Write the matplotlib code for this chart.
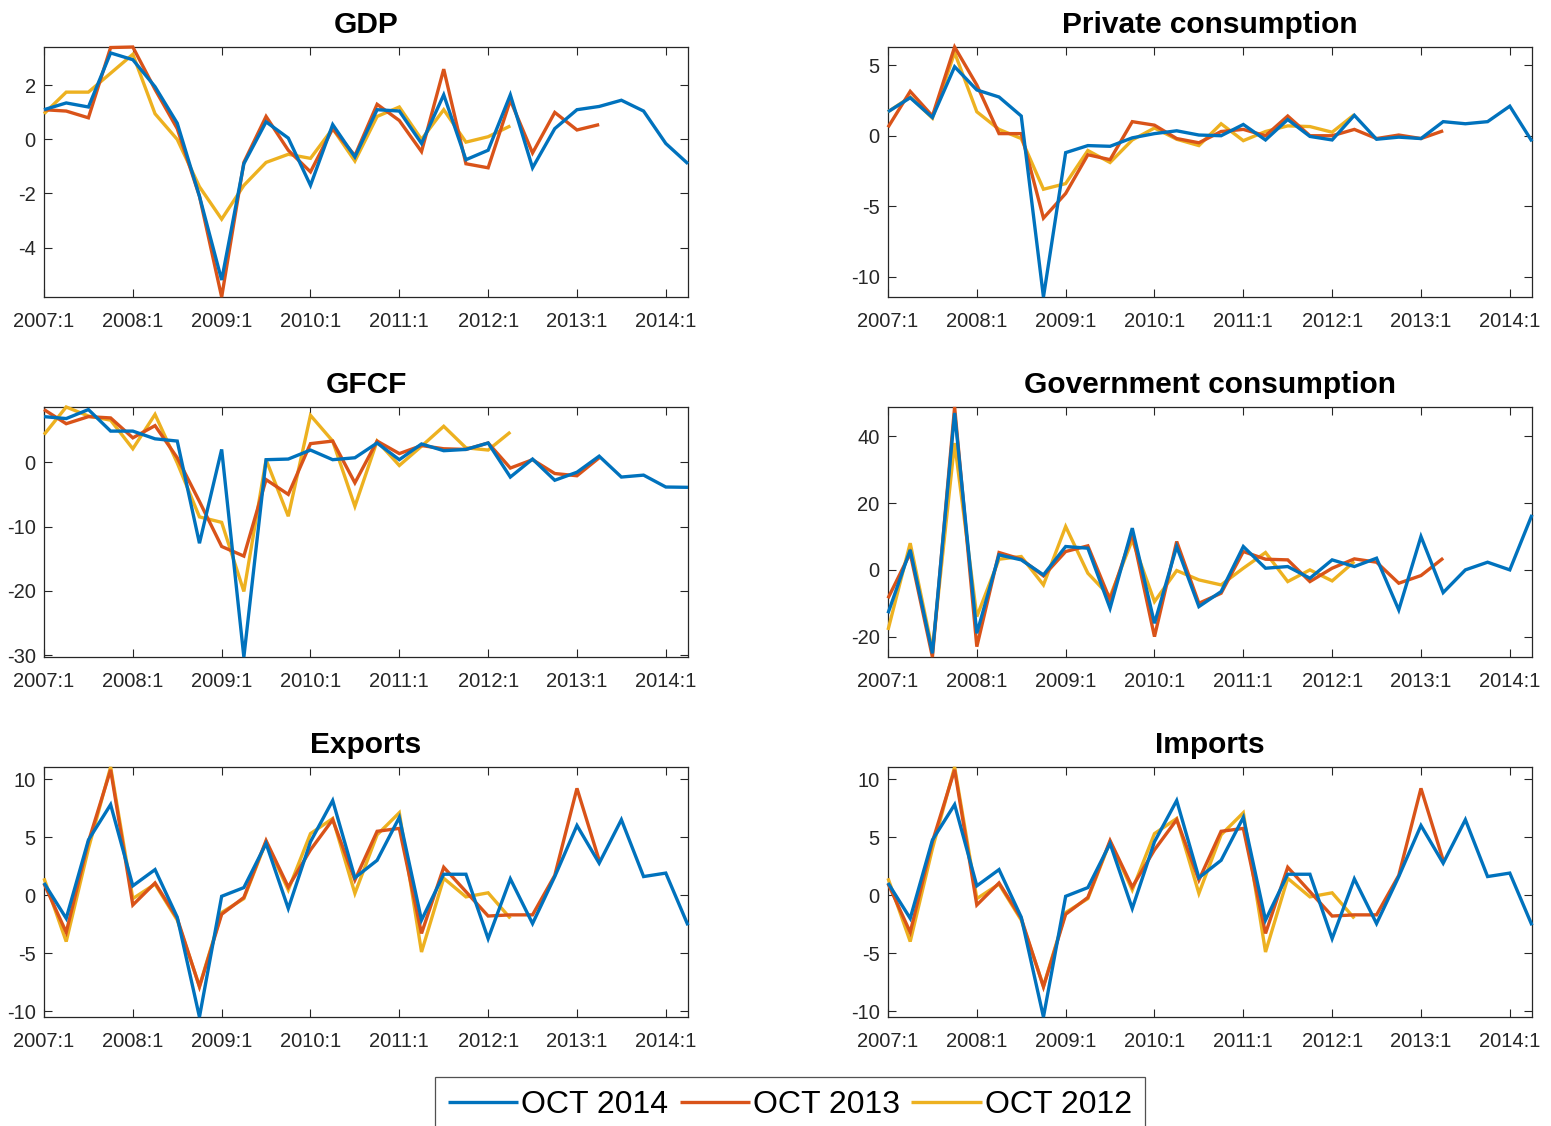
import matplotlib
matplotlib.use("Agg")
import matplotlib.pyplot as plt
import numpy as np

plt.rcParams['font.family'] = ['Liberation Sans', 'DejaVu Sans']

tick_labels = ["2007:1", "2008:1", "2009:1", "2010:1", "2011:1", "2012:1", "2013:1", "2014:1"]
n_quarters = 30  # 2007:1 .. 2014:2

# ---------------- GDP ----------------
gdp_oct2014 = [1.1, 1.35, 1.2, 3.2, 2.95, 1.95, 0.6, -2.1, -5.2, -0.9, 0.65, 0.05, -1.7, 0.55, -0.65,
               1.1, 1.05, -0.15, 1.65, -0.75, -0.4, 1.65, -1.05, 0.4, 1.1, 1.22, 1.45, 1.05, -0.15, -0.9]
gdp_oct2013 = [1.1, 1.05, 0.8, 3.4, 3.42, 1.85, 0.4, -2.1, -5.83, -0.85, 0.85, -0.4, -1.2, 0.4, -0.6,
               1.3, 0.7, -0.45, 2.6, -0.9, -1.05, 1.45, -0.5, 1.0, 0.35, 0.55]
gdp_oct2012 = [0.95, 1.75, 1.75, 2.45, 3.15, 0.95, 0.0, -1.75, -2.95, -1.7, -0.85, -0.55, -0.7, 0.4,
               -0.8, 0.85, 1.2, 0.0, 1.1, -0.1, 0.1, 0.5]

# ---------------- Private consumption ----------------
pc_oct2014 = [1.7, 2.7, 1.3, 4.9, 3.25, 2.75, 1.4, -11.45, -1.2, -0.7, -0.75, -0.15, 0.15, 0.35, 0.05,
              0.0, 0.8, -0.3, 1.15, -0.05, -0.3, 1.45, -0.25, -0.1, -0.2, 1.0, 0.85, 1.0, 2.1, -0.4]
pc_oct2013 = [0.6, 3.15, 1.4, 6.3, 3.6, 0.15, 0.15, -5.85, -4.1, -1.35, -1.7, 1.0, 0.75, -0.2, -0.5,
              0.3, 0.45, 0.0, 1.4, 0.0, 0.0, 0.45, -0.2, 0.05, -0.2, 0.35]
pc_oct2012 = [1.7, 2.75, 1.25, 5.9, 1.7, 0.45, -0.2, -3.8, -3.4, -1.05, -1.9, -0.3, 0.55, -0.25,
              -0.7, 0.85, -0.35, 0.3, 0.7, 0.65, 0.25, 1.5]

# ---------------- GFCF ----------------
gfcf_oct2014 = [7.1, 6.8, 8.2, 4.85, 4.85, 3.65, 3.3, -12.6, 2.0, -30.3, 0.4, 0.5, 1.9, 0.4, 0.7,
                3.0, 0.4, 2.85, 1.8, 2.0, 3.0, -2.3, 0.5, -2.8, -1.55, 0.95, -2.3, -2.0, -3.85, -3.9]
gfcf_oct2013 = [8.2, 6.0, 7.1, 6.9, 3.8, 5.7, 0.7, -6.1, -13.1, -14.6, -2.7, -5.0, 2.9, 3.3, -3.2,
                3.3, 1.35, 2.6, 2.1, 2.0, 3.0, -0.9, 0.4, -1.75, -2.1, 0.7]
gfcf_oct2012 = [4.3, 8.6, 7.2, 6.55, 2.1, 7.45, -0.1, -8.5, -9.35, -20.1, 0.4, -8.4, 7.3, 3.3, -6.85,
                3.3, -0.5, 2.5, 5.6, 2.25, 1.9, 4.7]

# ---------------- Government consumption ----------------
gov_oct2014 = [-13, 6, -25, 47, -19, 4.5, 3, -1.5, 7, 6.5, -11.5, 12.5, -16, 7, -11, -6.5, 7, 0.5,
               1, -2.5, 3, 1, 3.5, -12, 10, -6.8, 0, 2.3, 0, 16.5]
gov_oct2013 = [-8.5, 5, -26.1, 48.8, -23, 5.2, 3.2, -1.8, 5.5, 7.2, -9, 11, -20, 8.5, -10, -7, 5.5,
               3.2, 3, -3.5, 0.5, 3.3, 2.3, -4, -1.7, 3.5]
gov_oct2012 = [-18, 8, -24, 38, -14, 3.2, 4, -4.5, 13, -1, -8, 9, -9.5, -0.2, -3, -4.5, 0.5, 5.2,
               -3.5, 0, -3.3, 2.5]

# ---------------- Exports ----------------
exp_oct2014 = [1.05, -2.0, 4.75, 7.8, 0.8, 2.2, -1.9, -10.5, -0.1, 0.65, 4.45, -1.15, 4.6, 8.15, 1.5,
               3.0, 6.7, -2.15, 1.8, 1.8, -3.75, 1.4, -2.45, 1.6, 6.0, 2.75, 6.5, 1.6, 1.9, -2.6]
exp_oct2013 = [1.0, -3.2, 4.6, 10.8, -0.85, 1.05, -2.0, -7.9, -1.65, -0.2, 4.7, 0.7, 3.9, 6.5, 1.3,
               5.5, 5.75, -3.3, 2.4, 0.3, -1.8, -1.7, -1.7, 1.7, 9.2, 3.0]
exp_oct2012 = [1.45, -4.0, 4.0, 11.04, -0.3, 0.95, -2.15, -7.85, -1.5, -0.3, 4.6, 0.45, 5.3, 6.6,
               0.15, 5.2, 7.1, -4.9, 1.45, -0.15, 0.2, -2.0]

# ---------------- Imports ----------------
imp_oct2014 = [1.05, -2.0, 4.75, 7.8, 0.8, 2.2, -1.9, -10.5, -0.1, 0.65, 4.45, -1.15, 4.6, 8.15, 1.5,
               3.0, 6.7, -2.15, 1.8, 1.8, -3.75, 1.4, -2.45, 1.6, 6.0, 2.75, 6.5, 1.6, 1.9, -2.6]
imp_oct2013 = [1.0, -3.2, 4.6, 10.8, -0.85, 1.05, -2.0, -7.9, -1.65, -0.2, 4.7, 0.7, 3.9, 6.5, 1.3,
               5.5, 5.75, -3.3, 2.4, 0.3, -1.8, -1.7, -1.7, 1.7, 9.2, 3.0]
imp_oct2012 = [1.45, -4.0, 4.0, 11.04, -0.3, 0.95, -2.15, -7.85, -1.5, -0.3, 4.6, 0.45, 5.3, 6.6,
               0.15, 5.2, 7.1, -4.9, 1.45, -0.15, 0.2, -2.0]

series_names = ["OCT 2014", "OCT 2013", "OCT 2012"]
colors = ["#0072BD", "#D95319", "#EDB120"]

panels = [
    ("GDP", [gdp_oct2014, gdp_oct2013, gdp_oct2012], [-4, -2, 0, 2]),
    ("Private consumption", [pc_oct2014, pc_oct2013, pc_oct2012], [-10, -5, 0, 5]),
    ("GFCF", [gfcf_oct2014, gfcf_oct2013, gfcf_oct2012], [-30, -20, -10, 0]),
    ("Government consumption", [gov_oct2014, gov_oct2013, gov_oct2012], [-20, 0, 20, 40]),
    ("Exports", [exp_oct2014, exp_oct2013, exp_oct2012], [-10, -5, 0, 5, 10]),
    ("Imports", [imp_oct2014, imp_oct2013, imp_oct2012], [-10, -5, 0, 5, 10]),
]

W, H = 1551, 1126
fig = plt.figure(figsize=(W / 100, H / 100), dpi=100)

col_left = [44, 888]
ax_w = 644
row_top = [47, 407, 767]
ax_h = 250
axcol = "#262626"

handles = []
for k, (title, data, yt) in enumerate(panels):
    r, c = divmod(k, 2)
    ax = fig.add_axes([col_left[c] / W, 1 - (row_top[r] + ax_h) / H, ax_w / W, ax_h / H])
    allv = []
    for s, (vals, col, name) in enumerate(zip(data, colors, series_names)):
        x = np.arange(len(vals))
        ln, = ax.plot(x, vals, color=col, lw=2.4, label=name, clip_on=False,
                      solid_joinstyle='miter', solid_capstyle='butt', zorder=3 - s * 0.1)
        allv.extend(vals)
        if k == 0:
            handles.append(ln)
    ax.set_xlim(0, n_quarters - 1)
    ax.set_ylim(min(allv), max(allv))
    ax.set_xticks(np.arange(0, n_quarters, 4))
    ax.set_xticklabels(tick_labels)
    ax.set_yticks(yt)
    ax.set_yticklabels([str(v) for v in yt])
    ax.tick_params(direction='in', top=True, right=True, length=6, width=0.8,
                   labelsize=14.5, colors=axcol, labelcolor="#262626", pad=6)
    ax.tick_params(axis='x', pad=10.5)
    for sp in ax.spines.values():
        sp.set_color(axcol)
        sp.set_linewidth(0.9)
    ax.set_title(title, fontsize=21.5, fontweight='bold', pad=10)

leg = fig.legend(handles, series_names, loc='upper center', ncol=3,
                 bbox_to_anchor=(790 / W, 1 - 1077 / H), fontsize=23,
                 handlelength=2.2, handletextpad=0.1, columnspacing=0.35,
                 borderpad=0.4, frameon=True, fancybox=False, borderaxespad=0)
leg.get_frame().set_edgecolor("#262626")
leg.get_frame().set_linewidth(0.9)

fig.savefig("out.png", dpi=100)
